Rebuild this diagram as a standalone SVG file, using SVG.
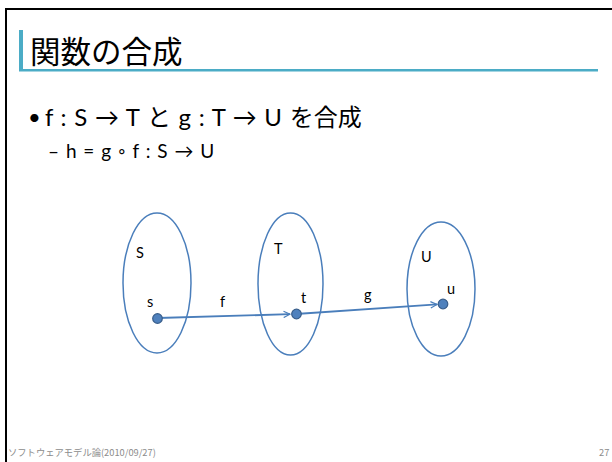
<svg xmlns="http://www.w3.org/2000/svg" width="612" height="462" viewBox="0 0 612 462">
<defs>
<style>
.jp{font-family:Lato,"Noto Sans CJK JP",sans-serif;fill:#000}
.lbl{font-family:Lato,"Liberation Sans",sans-serif;font-size:14.5px;fill:#000}
.set{fill:none;stroke:#4a7ebb;stroke-width:1.5}
.dot{fill:#4f81bd;stroke:#385d8a;stroke-width:1.2}
.conn{stroke:#4a7ebb;stroke-width:1.8;fill:none}
.foot{font-family:"Noto Sans CJK JP",sans-serif;font-size:9.3px;fill:#8c8c8c}
</style>
<marker id="arr" viewBox="0 0 10 10" refX="9" refY="5" markerWidth="8" markerHeight="8" orient="auto" markerUnits="userSpaceOnUse">
<path d="M1,1 L9,5 L1,9" fill="none" stroke="#4a7ebb" stroke-width="1.5"/>
</marker>
</defs>
<rect width="612" height="462" fill="#fff"/>
<path d="M6,462 V9 H612" fill="none" stroke="#000" stroke-width="2"/>
<g id="title">
<rect x="19" y="30" width="4" height="41" fill="#4bacc6"/>
<rect x="19" y="69" width="579" height="2.5" fill="#4bacc6"/>
<text class="jp" x="30" y="63" font-size="30.5">関数の合成</text>
</g>
<g id="body">
<text class="jp" x="28" y="125" font-size="22">•</text>
<text class="jp" x="45" y="126" font-size="24" word-spacing="1.5">f : S → T と g : T → U を合成</text>
<text class="jp" x="48" y="158" font-size="19" word-spacing="2">– h = g ◦ f : S → U</text>
</g>
<g id="set-S"><ellipse class="set" cx="157" cy="283" rx="34" ry="70"/><text class="lbl" x="136" y="258">S</text></g>
<g id="set-T"><ellipse class="set" cx="290.5" cy="284" rx="32.5" ry="71"/><text class="lbl" x="274" y="254">T</text></g>
<g id="set-U"><ellipse class="set" cx="441" cy="289" rx="34" ry="67"/><text class="lbl" x="421" y="262">U</text></g>
<g id="connectors">
<line class="conn" x1="158" y1="318" x2="290" y2="314.2" marker-end="url(#arr)"/>
<line class="conn" x1="296" y1="314" x2="437" y2="304.4" marker-end="url(#arr)"/>
<text class="lbl" x="220" y="307">f</text>
<text class="lbl" x="364" y="300">g</text>
</g>
<g id="elem-s"><circle class="dot" cx="157.5" cy="318.5" r="4.8"/><text class="lbl" x="147" y="307">s</text></g>
<g id="elem-t"><circle class="dot" cx="296.5" cy="314" r="4.8"/><text class="lbl" x="301" y="303">t</text></g>
<g id="elem-u"><circle class="dot" cx="443" cy="304" r="4.8"/><text class="lbl" x="447" y="294">u</text></g>
<g id="footer">
<text class="foot" x="8" y="456">ソフトウェアモデル論(2010/09/27)</text>
<text class="foot" x="599" y="456">27</text>
</g>
</svg>
